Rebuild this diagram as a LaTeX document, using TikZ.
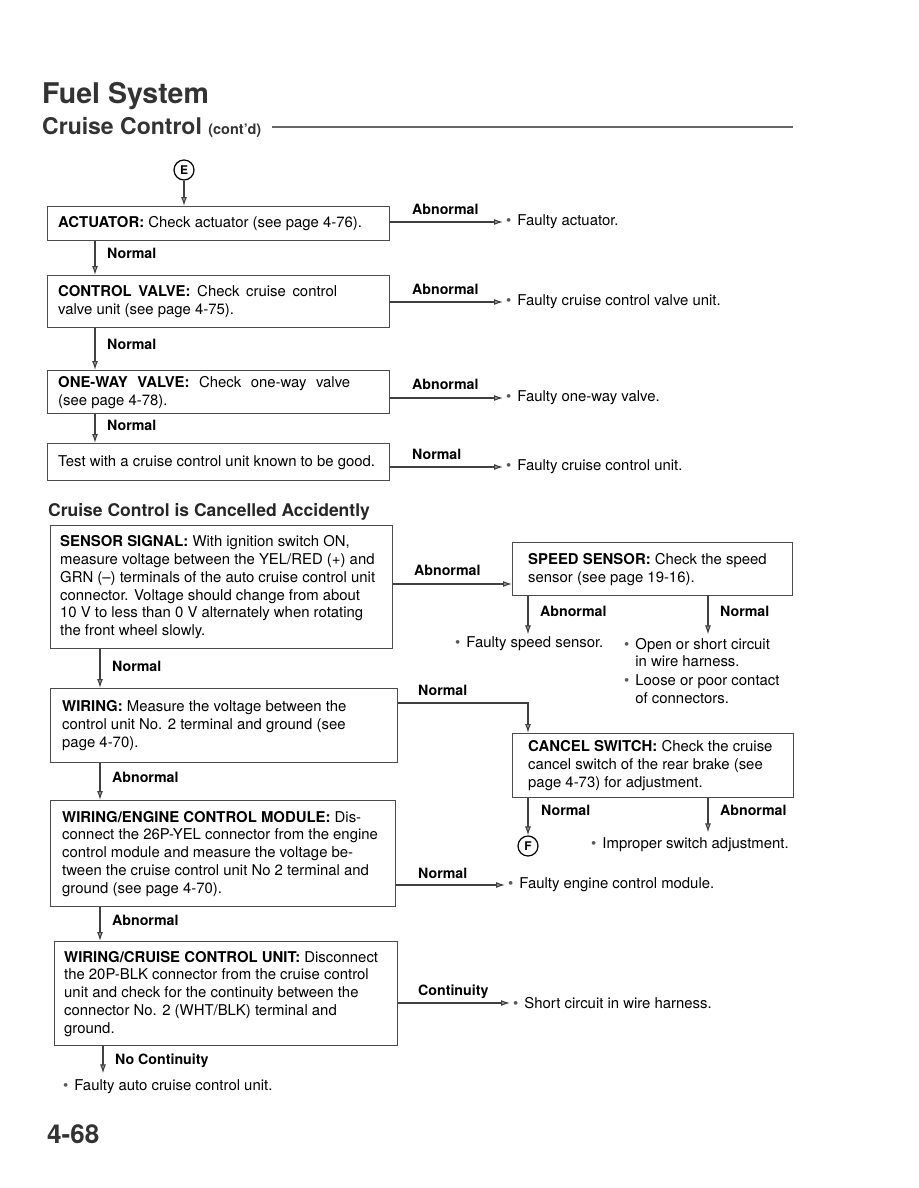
\documentclass[tikz,border=0pt]{standalone}
\usepackage{fontspec}
\setmainfont{TeX Gyre Heros}
\usetikzlibrary{arrows.meta,calc}
\newcommand\mybul{\hspace{3pt}{\color{black!65}\textbullet}\hspace{6pt}}
\begin{document}
\begin{tikzpicture}[x=1pt,y=-1pt,
 line/.style={draw=black!70, line width=1.1pt},
 box/.style={draw=black!70, line width=1.4pt, anchor=north west, inner sep=0pt},
 txt/.style={anchor=west, inner sep=0pt, align=left, font=\fontsize{14.9}{17.8}\selectfont},
 lab/.style={anchor=west, inner sep=0pt, font=\fontsize{14.2}{16}\selectfont\bfseries},
 res/.style={anchor=west, inner sep=0pt, align=left, font=\fontsize{14.9}{17.8}\selectfont},
 arr/.style={draw=black!75, line width=1.1pt, -{Latex[open, length=9pt, width=6pt, fill=black!35]}},
 circ/.style={draw=black, line width=1.2pt, circle, minimum size=20pt, inner sep=0pt, font=\fontsize{12}{12}\selectfont\bfseries}
]
\useasboundingbox[fill=white] (0,0) rectangle (918,1188);

% header
\node[anchor=base west, inner sep=0pt, font=\fontsize{28.5}{30}\selectfont\bfseries, text=black!80] (title) at (42,104) {Fuel System};
\node[anchor=base west, inner sep=0pt, font=\fontsize{23}{25}\selectfont\bfseries, text=black!80] (sub) at (42,135) {Cruise Control {\fontsize{14.5}{16}\selectfont (cont’d)}};
\coordinate (rl) at (272,127);
\coordinate (rr) at (793,127);
\draw[line, line width=1.4pt, draw=black!60] (rl) -- (rr);

% top chain
\node[circ] (E) at (184,170) {E};
\node[box, minimum width=342pt, minimum height=34pt] (act) at (47,206) {};
\node[txt] (actT) at ([xshift=11pt]act.west) {\textbf{ACTUATOR:} Check actuator (see page 4-76).};
\node[box, minimum width=342pt, minimum height=52pt] (cv) at (47,275) {};
\node[txt] (cvT) at ([xshift=11pt]cv.west) {\makebox[279pt][s]{\textbf{CONTROL VALVE:} Check cruise control}\\valve unit (see page 4-75).};
\node[box, minimum width=342pt, minimum height=43pt] (ow) at (47,370) {};
\node[txt] (owT) at ([xshift=11pt]ow.west) {\makebox[292pt][s]{\textbf{ONE-WAY VALVE:} Check one-way valve}\\(see page 4-78).};
\node[box, minimum width=342pt, minimum height=37pt] (tst) at (47,443) {};
\node[txt] (tstT) at ([xshift=11pt]tst.west) {Test with a cruise control unit known to be good.};

\draw[arr] (E) -- (act.north -| E);
\draw[arr] ([xshift=48pt]act.south west) -- ([xshift=48pt]cv.north west);
\draw[arr] ([xshift=48pt]cv.south west) -- ([xshift=48pt]ow.north west);
\draw[arr] ([xshift=48pt]ow.south west) -- ([xshift=48pt]tst.north west);
\node[lab] (l2) at (107,253) {Normal};
\node[lab] (l4) at (107,344) {Normal};
\node[lab] (l6) at (107,425) {Normal};

\node[res] (r1) at (503,222) {\mybul Faulty actuator.};
\node[res] (r2) at (503,302) {\mybul Faulty cruise control valve unit.};
\node[res] (r3) at (503,398) {\mybul Faulty one-way valve.};
\node[res] (r4) at (503,467) {\mybul Faulty cruise control unit.};
\draw[arr] (act.east |- r1.west) -- (r1.west);
\draw[arr] (cv.east |- r2.west) -- (r2.west);
\draw[arr] (ow.east |- r3.west) -- (r3.west);
\draw[arr] (tst.east |- r4.west) -- (r4.west);
\node[lab] (l1) at (412,209) {Abnormal};
\node[lab] (l3) at (412,289) {Abnormal};
\node[lab] (l5) at (412,384) {Abnormal};
\node[lab] (l7) at (412,454) {Normal};

% section heading
\node[anchor=base west, inner sep=0pt, font=\fontsize{17.5}{20}\selectfont\bfseries, text=black!85] (h2) at (48,516) {Cruise Control is Cancelled Accidently};

% sensor signal
\node[box, minimum width=342pt, minimum height=123pt] (ss) at (50,525) {};
\node[txt] (ssT) at ([xshift=10pt]ss.west) {\textbf{SENSOR SIGNAL:} With ignition switch ON,\\measure voltage between the YEL/RED (+) and\\GRN (--) terminals of the auto cruise control unit\\connector. Voltage should change from about\\10 V to less than 0 V alternately when rotating\\the front wheel slowly.};
\node[box, minimum width=280pt, minimum height=53pt] (spd) at (512,542) {};
\node[txt] (spdT) at ([xshift=16pt]spd.west) {\textbf{SPEED SENSOR:} Check the speed\\sensor (see page 19-16).};
\coordinate (a1) at (450,584);
\draw[arr] (ss.east |- a1) -- (spd.west |- a1);
\node[lab] (l8) at (414,570) {Abnormal};

\node[res] (r5) at (452,644) {\mybul Faulty speed sensor.};
\node[res] (r6) at (621,652.5) {\mybul Open or short circuit\\\hphantom{\mybul}in wire harness.};
\node[res] (r6b) at (621,689.5) {\mybul Loose or poor contact\\\hphantom{\mybul}of connectors.};
\draw[arr] ([xshift=16pt]spd.south west) -- ++(0,38);
\draw[arr] ([xshift=196pt]spd.south west) -- ++(0,38);
\node[lab] (l10) at (540,611) {Abnormal};
\node[lab] (l11) at (720,611) {Normal};

% wiring
\node[box, minimum width=347pt, minimum height=74pt] (wir) at (50,688) {};
\node[txt] (wirT) at ([xshift=12pt]wir.west) {\textbf{WIRING:} Measure the voltage between the\\control unit No. 2 terminal and ground (see\\page 4-70).};
\draw[arr] ([xshift=50pt]ss.south west) -- ([xshift=50pt]wir.north west);
\node[lab] (l9) at (112,666) {Normal};

\node[box, minimum width=281pt, minimum height=64pt] (cs) at (512,733) {};
\node[txt] (csT) at ([xshift=16pt]cs.west) {\textbf{CANCEL SWITCH:} Check the cruise\\cancel switch of the rear brake (see\\page 4-73) for adjustment.};
\coordinate (a2) at (450,703);
\draw[arr] (wir.east |- a2) -| ([xshift=16pt]cs.north west);
\node[lab] (l12) at (418,690) {Normal};

\node[circ] (F) at (528,846) {F};
\draw[arr] ([xshift=16pt]cs.south west) -- (F.north);
\draw[arr] ([xshift=196pt]cs.south west) -- ++(0,34);
\node[lab] (l14) at (541,810) {Normal};
\node[lab] (l15) at (720,810) {Abnormal};
\node[res] (r7) at (588,845) {\mybul Improper switch adjustment.};

% ECM
\node[box, minimum width=345pt, minimum height=106pt] (ecm) at (50,800) {};
\node[txt] (ecmT) at ([xshift=12pt]ecm.west) {\textbf{WIRING/ENGINE CONTROL MODULE:} Dis-\\connect the 26P-YEL connector from the engine\\control module and measure the voltage be-\\tween the cruise control unit No 2 terminal and\\ground (see page 4-70).};
\draw[arr] ([xshift=50pt]wir.south west) -- ([xshift=50pt]ecm.north west);
\node[lab] (l13) at (112,777) {Abnormal};
\node[res] (r8) at (505,885) {\mybul Faulty engine control module.};
\draw[arr] (ecm.east |- r8.west) -- (r8.west);
\node[lab] (l16) at (418,873) {Normal};

% CCU
\node[box, minimum width=343pt, minimum height=104pt] (ccu) at (54,941) {};
\node[txt] (ccuT) at ([xshift=10pt]ccu.west) {\textbf{WIRING/CRUISE CONTROL UNIT:} Disconnect\\the 20P-BLK connector from the cruise control\\unit and check for the continuity between the\\connector No. 2 (WHT/BLK) terminal and\\ground.};
\draw[arr] ([xshift=50pt]ecm.south west) -- ([xshift=50pt]ecm.south west |- ccu.north);
\node[lab] (l17) at (112,920) {Abnormal};
\node[res] (r9) at (510,1003) {\mybul Short circuit in wire harness.};
\draw[arr] (ccu.east |- r9.west) -- (r9.west);
\node[lab] (l18) at (418,992) {Continuity};

\node[res] (r10) at (60,1087) {\mybul Faulty auto cruise control unit.};
\draw[arr] ([xshift=49pt]ccu.south west) -- ++(0,27);
\node[lab] (l19) at (115,1061) {No Continuity};

% page number
\node[anchor=base west, inner sep=0pt, font=\fontsize{26}{28}\selectfont\bfseries, text=black!80] (pg) at (47,1143) {4-68};
\end{tikzpicture}
\end{document}
